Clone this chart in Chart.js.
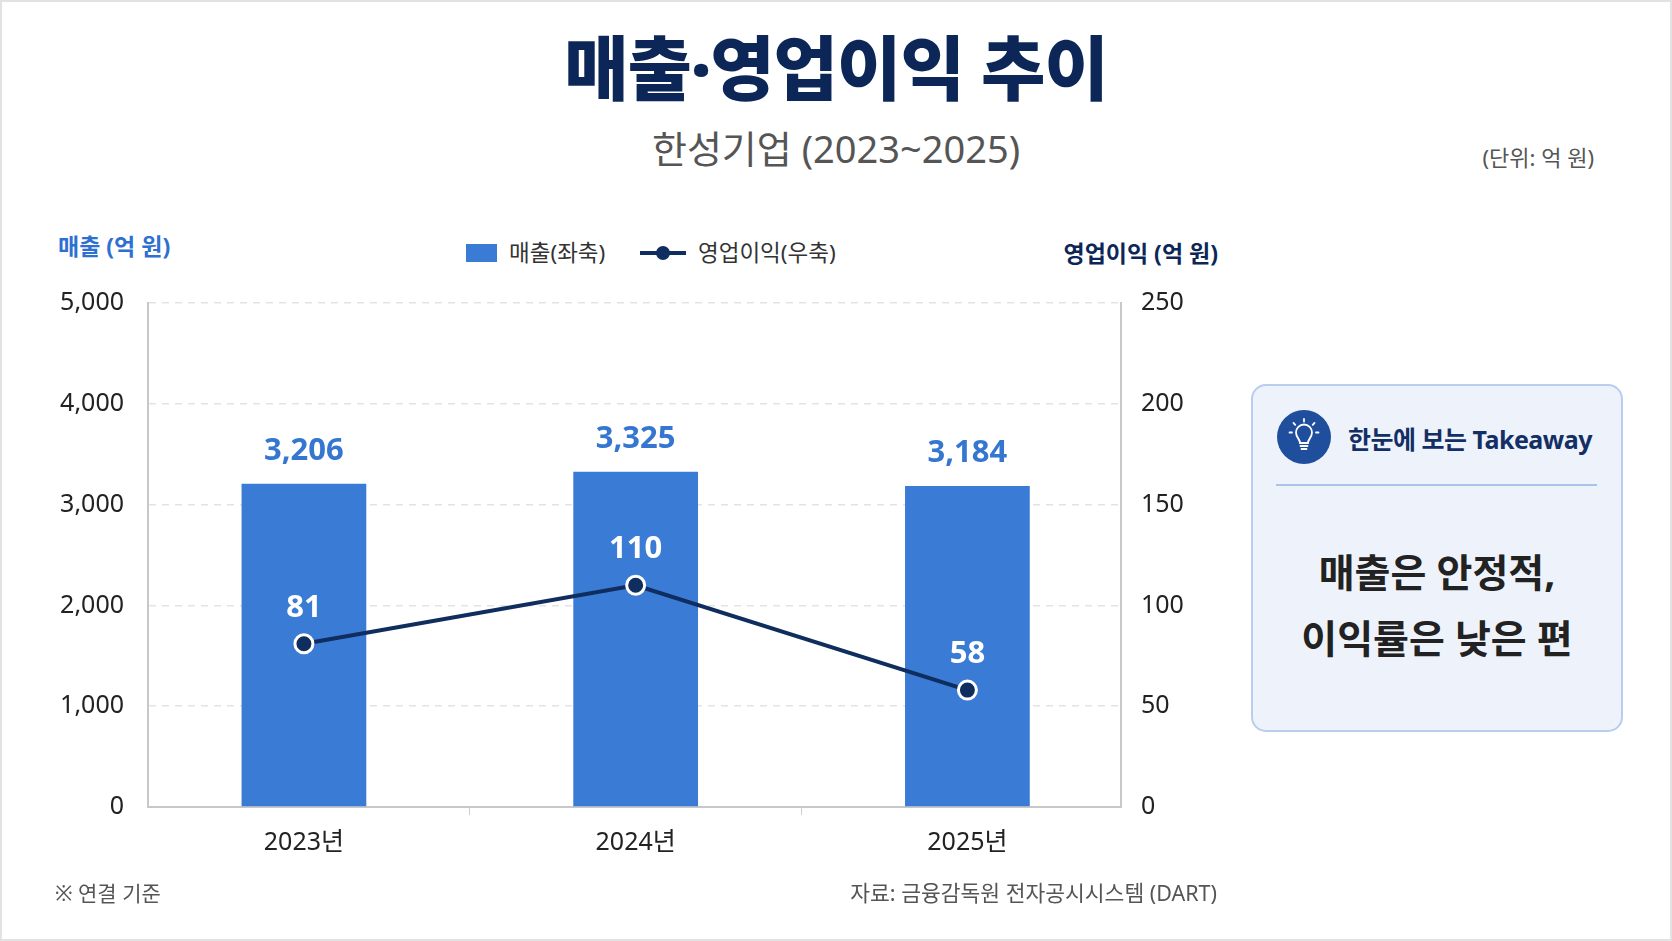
<!DOCTYPE html>
<html lang="ko">
<head>
<meta charset="utf-8">
<title>매출·영업이익 추이</title>
<script src="https://cdn.jsdelivr.net/npm/chart.js@4.4.1/dist/chart.umd.min.js"></script>
<style>
  html, body { margin: 0; padding: 0; background: #fff; }
  body {
    width: 1672px; height: 941px; overflow: hidden; position: relative;
    font-family: "Noto Sans", "Noto Sans CJK KR", sans-serif;
    box-shadow: inset 0 0 0 2px #e2e2e2;
  }
  .t { position: absolute; white-space: nowrap; line-height: 1; }
  .c { transform: translate(-50%, -50%); }
  .l { transform: translateY(-50%); }
  .r { transform: translate(-100%, -50%); }
  #title { left: 836px; top: 68px; font-size: 70px; font-weight: 900; color: #0c2757; letter-spacing: -1px; }
  #subtitle { left: 836px; top: 148px; font-size: 38px; color: #555; }
  #unit { left: 1594px; top: 157px; font-size: 22px; color: #555; }
  #yTitleL { left: 58px; top: 246px; font-size: 23px; font-weight: 700; color: #2e6fd2; }
  #yTitleR { left: 1218px; top: 253px; font-size: 23px; font-weight: 700; color: #0c2757; }
  .leg-text { top: 253px; font-size: 22.5px; color: #333; }
  #legBar { position: absolute; left: 466px; top: 244px; width: 31px; height: 18px; background: #3a7bd5; }
  #legLine { position: absolute; left: 640px; top: 251px; width: 46px; height: 4px; background: #0f2d5e; }
  #legDot { position: absolute; left: 656px; top: 246px; width: 14px; height: 14px; border-radius: 50%; background: #0f2d5e; }
  #chartBox { position: absolute; left: 0; top: 264px; width: 1240px; height: 635px; }
  .foot { top: 893px; color: #555; }
  #card {
    position: absolute; left: 1251px; top: 384px; width: 372px; height: 348px;
    box-sizing: border-box; border: 2px solid #b8cdef; border-radius: 15px; background: #eef3fb;
  }
  #bulb { position: absolute; left: 1277px; top: 410px; width: 54px; height: 54px; }
  #cardTitle { left: 1348px; top: 439px; font-size: 25px; font-weight: 700; color: #142f63; letter-spacing: -0.5px; }
  #divider { position: absolute; left: 1276px; top: 484px; width: 321px; height: 2px; background: #a9c3ea; }
  .msg { left: 1437px; font-size: 39px; font-weight: 700; color: #222; }
</style>
</head>
<body>
<div class="t c" id="title">매출·영업이익 추이</div>
<div class="t c" id="subtitle">한성기업 (2023~2025)</div>
<div class="t r" id="unit">(단위: 억 원)</div>

<div class="t l" id="yTitleL">매출 (억 원)</div>
<div class="t r" id="yTitleR">영업이익 (억 원)</div>

<div id="legBar"></div>
<div class="t l leg-text" style="left:509px">매출(좌축)</div>
<div id="legLine"></div>
<div id="legDot"></div>
<div class="t l leg-text" style="left:698px">영업이익(우축)</div>

<div id="chartBox"><canvas id="chart"></canvas></div>

<div class="t l foot" style="left:55px; font-size:21px">※ 연결 기준</div>
<div class="t r foot" style="left:1217px; font-size:21.5px">자료: 금융감독원 전자공시시스템 (DART)</div>

<div id="card"></div>
<svg id="bulb" viewBox="0 0 54 54">
  <circle cx="27" cy="27" r="27" fill="#1f4e9c"/>
  <g fill="none" stroke="#fff" stroke-width="1.8" stroke-linecap="round">
    <path d="M23 33 C23 29 19 27.5 19 22.5 A8 8 0 0 1 35 22.5 C35 27.5 31 29 31 33 Z"/>
    <line x1="23.5" y1="36" x2="30.5" y2="36"/>
    <line x1="24.5" y1="39" x2="29.5" y2="39"/>
    <line x1="27" y1="9" x2="27" y2="11.5"/>
    <line x1="16.5" y1="13" x2="18.3" y2="14.8"/>
    <line x1="37.5" y1="13" x2="35.7" y2="14.8"/>
    <line x1="12.5" y1="22.5" x2="15" y2="22.5"/>
    <line x1="39" y1="22.5" x2="41.5" y2="22.5"/>
  </g>
</svg>
<div class="t l" id="cardTitle">한눈에 보는 Takeaway</div>
<div id="divider"></div>
<div class="t c msg" style="top:571px">매출은 안정적,</div>
<div class="t c msg" style="top:637px">이익률은 낮은 편</div>

<script>
const years = ['2023년', '2024년', '2025년'];
const sales = [3206, 3325, 3184];        // 매출 (억 원), 좌축
const opProfit = [81, 110, 58];          // 영업이익 (억 원), 우축
const salesTicks = [0, 1000, 2000, 3000, 4000, 5000];
const profitTicks = [0, 50, 100, 150, 200, 250];

const BLUE = '#3a7bd5';
const NAVY = '#0f2d5e';
const FONT = '"Noto Sans", "Noto Sans CJK KR", sans-serif';

// 값 라벨 (막대 위 파란 숫자, 점 위 흰 숫자)
const valueLabels = {
  id: 'valueLabels',
  afterDatasetsDraw(chart) {
    const ctx = chart.ctx;
    ctx.save();
    ctx.textAlign = 'center';
    ctx.textBaseline = 'middle';
    ctx.font = `700 31px ${FONT}`;
    chart.getDatasetMeta(0).data.forEach((el, i) => {
      ctx.fillStyle = '#3576d0';
      ctx.fillText(sales[i].toLocaleString('en-US'), el.x, el.y - 33);
    });
    chart.getDatasetMeta(1).data.forEach((el, i) => {
      ctx.fillStyle = '#ffffff';
      ctx.fillText(String(opProfit[i]), el.x, el.y - 36);
    });
    ctx.restore();
  }
};

new Chart(document.getElementById('chart'), {
  type: 'bar',
  data: {
    labels: years,
    datasets: [
      {
        type: 'bar',
        label: '매출(좌축)',
        data: sales,
        yAxisID: 'y',
        backgroundColor: BLUE,
        categoryPercentage: 1,
        barPercentage: 0.376,
        order: 2
      },
      {
        type: 'line',
        label: '영업이익(우축)',
        data: opProfit,
        yAxisID: 'y1',
        borderColor: NAVY,
        borderWidth: 4,
        pointRadius: 9,
        pointBorderWidth: 3,
        pointBackgroundColor: NAVY,
        pointBorderColor: '#ffffff',
        tension: 0,
        order: 1
      }
    ]
  },
  options: {
    responsive: true,
    maintainAspectRatio: false,
    animation: false,
    layout: { padding: { top: 0, left: 0, right: 0, bottom: 0 } },
    plugins: {
      legend: { display: false },
      tooltip: { enabled: false }
    },
    scales: {
      x: {
        offset: true,
        // 원본처럼 양 끝 카테고리 여백을 조금 좁게 (막대 간격이 축 폭의 1/3보다 약간 넓음)
        afterBuildTicks: s => { s._startValue = -0.47; s._valueRange = 2.933; },
        grid: { display: true, drawOnChartArea: false, drawTicks: true, tickLength: 8, color: '#cfcfcf', offset: true },
        border: { display: true, color: '#c8c8c8', width: 2 },
        ticks: { color: '#222', padding: 13, font: { family: FONT, size: 25 } },
        afterFit: s => { s.height = 92; }
      },
      y: {
        position: 'left',
        min: salesTicks[0],
        max: salesTicks[salesTicks.length - 1],
        afterBuildTicks: s => { s.ticks = salesTicks.map(v => ({ value: v })); },
        grid: { color: '#e3e3e3', lineWidth: 1.5, drawTicks: false },
        border: { display: true, color: '#c8c8c8', width: 2, dash: [7, 6] },
        ticks: {
          color: '#222', padding: 24, font: { family: FONT, size: 25 },
          callback: v => v.toLocaleString('en-US')
        },
        afterFit: s => { s.width = 148; }
      },
      y1: {
        position: 'right',
        min: profitTicks[0],
        max: profitTicks[profitTicks.length - 1],
        afterBuildTicks: s => { s.ticks = profitTicks.map(v => ({ value: v })); },
        grid: { drawOnChartArea: false, drawTicks: false },
        border: { display: true, color: '#c8c8c8', width: 2 },
        ticks: { color: '#222', padding: 20, font: { family: FONT, size: 25 } },
        afterFit: s => { s.width = 119; }
      }
    }
  },
  plugins: [valueLabels]
});
</script>
</body>
</html>
